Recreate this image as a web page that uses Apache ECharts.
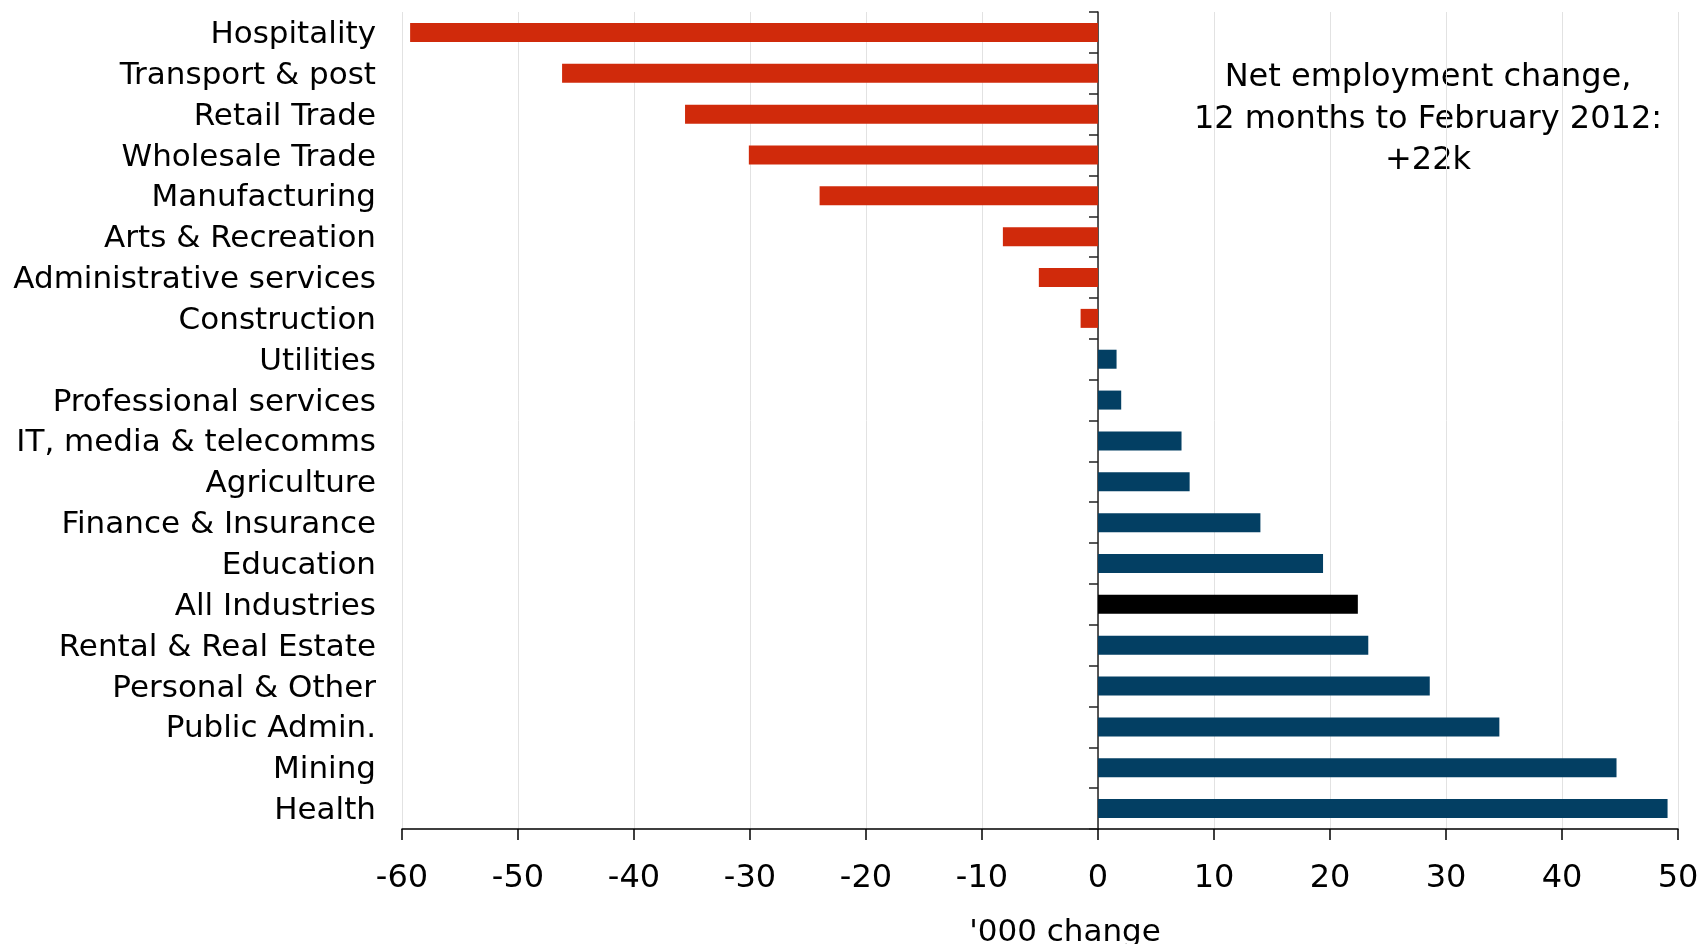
<!DOCTYPE html>
<html>
<head>
<meta charset="utf-8">
<title>Net employment change by industry</title>
<script src="https://cdn.jsdelivr.net/npm/echarts@6/dist/echarts.min.js"></script>
<style>
    html, body { margin: 0; padding: 0; background: #fff; }
    #chart { width: 1700px; height: 944px; }
</style>
</head>
<body>
<div id="chart"></div>
<script>
// industries, top to bottom
const industries = [
    'Hospitality', 'Transport & post', 'Retail Trade', 'Wholesale Trade',
    'Manufacturing', 'Arts & Recreation', 'Administrative services', 'Construction',
    'Utilities', 'Professional services', 'IT, media & telecomms', 'Agriculture',
    'Finance & Insurance', 'Education', 'All Industries', 'Rental & Real Estate',
    'Personal & Other', 'Public Admin.', 'Mining', 'Health'
];

// net change, '000, 12 months to Feb 2012
const changes = [
    -59.3, -46.2, -35.6, -30.1,
    -24.0, -8.2, -5.1, -1.5,
    1.6, 2.0, 7.2, 7.9,
    14.0, 19.4, 22.4, 23.3,
    28.6, 34.6, 44.7, 49.1
];

// x axis ticks
const axisMin = -60;
const axisMax = 50;
const axisStep = 10;
const axisTitle = "'000 change";

// note in the top right
const noteLines = [
    'Net employment change,',
    '12 months to February 2012:',
    '+22k'
];

const totalName = 'All Industries';
const colNeg = '#D02A0B';
const colPos = '#033F63';
const colTotal = '#000000';

const font = '"DejaVu Sans", Verdana, sans-serif';

const chart = echarts.init(document.getElementById('chart'));

const barData = changes.map((v, i) => ({
    value: v,
    itemStyle: {
        color: industries[i] === totalName ? colTotal : (v < 0 ? colNeg : colPos)
    }
}));

const option = {
    backgroundColor: '#ffffff',
    animation: false,
    grid: {
        left: 402,
        right: 22,
        top: 12,
        bottom: 115,
        containLabel: false,
        outerBoundsMode: 'none'
    },
    xAxis: {
        type: 'value',
        min: axisMin,
        max: axisMax,
        interval: axisStep,
        name: axisTitle,
        nameLocation: 'middle',
        nameGap: 88,
        nameTextStyle: {
            fontFamily: font,
            fontSize: 31,
            color: '#000',
            padding: [0, 0, 0, 50]
        },
        axisLine: { show: true, onZero: false, lineStyle: { color: '#000', width: 1.5 } },
        axisTick: { show: true, length: 11, lineStyle: { color: '#000', width: 1.5 } },
        axisLabel: {
            fontFamily: font,
            fontSize: 32,
            color: '#000',
            margin: 34
        },
        splitLine: { show: true, lineStyle: { color: '#e2e2e2', width: 1 } }
    },
    yAxis: [
        {
            // labels on the left edge
            type: 'category',
            data: industries,
            inverse: true,
            position: 'left',
            axisLine: { show: false, onZero: false },
            axisTick: { show: false },
            axisLabel: {
                color: '#000',
                margin: 26,
                formatter: function (v) {
                    return '{l|' + v + '}';
                },
                rich: {
                    l: {
                        fontFamily: font,
                        fontSize: 31,
                        color: '#000',
                        padding: [5, 0, 0, 0]
                    }
                }
            },
            splitLine: { show: false }
        },
        {
            // axis line sitting on x = 0
            type: 'category',
            data: industries,
            inverse: true,
            position: 'left',
            axisLine: { show: true, onZero: true, lineStyle: { color: '#222', width: 1.5 } },
            axisTick: { show: true, length: 9, lineStyle: { color: '#222', width: 1.5 } },
            axisLabel: { show: false },
            splitLine: { show: false }
        }
    ],
    series: [
        {
            type: 'bar',
            yAxisIndex: 0,
            barWidth: 19,
            data: barData
        }
    ],
    graphic: [
        {
            type: 'text',
            x: 1428,
            y: 57,
            style: {
                text: noteLines.join('\n'),
                font: '32px ' + font,
                fill: '#000',
                textAlign: 'center',
                textVerticalAlign: 'top',
                lineHeight: 41.5
            }
        }
    ]
};

chart.setOption(option);

window.addEventListener('resize', function () {
    chart.resize();
});
</script>
</body>
</html>
